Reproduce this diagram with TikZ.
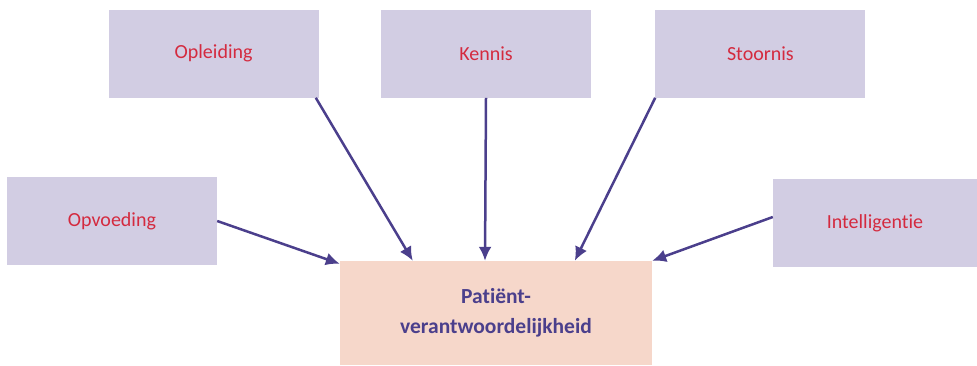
\documentclass[tikz,border=0pt]{standalone}
\usepackage{fontspec}
\setmainfont{Carlito}[Ligatures=CommonOff]
\usetikzlibrary{positioning,arrows.meta}
\definecolor{boxlila}{HTML}{D2CDE3}
\definecolor{boxperzik}{HTML}{F6D7CA}
\definecolor{tekstrood}{HTML}{D42A3F}
\definecolor{pijlpaars}{HTML}{4B3F8C}
\tikzset{
    factor/.style={rectangle,fill=boxlila,text=tekstrood,text centered,minimum width=210pt,minimum height=88pt,inner sep=0pt,font=\fontsize{20}{24}\selectfont},
    uitkomst/.style={rectangle,fill=boxperzik,text=pijlpaars,align=center,minimum width=312pt,minimum height=104pt,inner sep=0pt,font=\fontsize{21.5}{30}\selectfont\bfseries},
    pijl/.style={draw=pijlpaars,line width=2.5pt,-{Latex[length=14pt,width=13pt]}},
}
\begin{document}
\begin{tikzpicture}[x=1pt,y=-1pt]
\useasboundingbox (0,0) rectangle (977,366);
\node[uitkomst](PV) at (496,313) {Patiënt-\\verantwoordelijkheid};
\node[factor](Ke) [above =163pt of PV, xshift=-10pt] {Kennis};
\node[factor](Op) [left =62pt of Ke] {Opleiding};
\node[factor](St) [right =64pt of Ke] {Stoornis};
\node[factor](Ov) at (112,221) {Opvoeding};
\node[factor,minimum width=204pt](In) at (875,223) {Intelligentie};
\draw[pijl] ([xshift=-3pt]Op.south east) -- ([xshift=73pt]PV.north west);
\draw[pijl] (Ke.south) -- ([xshift=-11pt]PV.north);
\draw[pijl] (St.south west) -- ([xshift=235pt]PV.north west);
\draw[pijl] (Ov.east) -- ([yshift=-3pt]PV.north west);
\draw[pijl] ([yshift=6pt]In.west) -- (PV.north east);
\end{tikzpicture}
\end{document}
